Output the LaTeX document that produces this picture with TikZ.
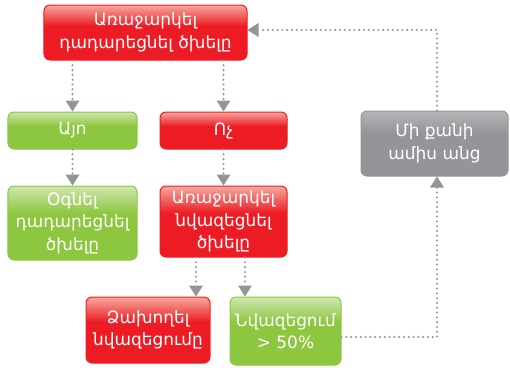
\documentclass[tikz,border=0pt]{standalone}
\usepackage{fontspec}
\setmainfont{DejaVu Sans}
\usetikzlibrary{arrows.meta,calc}

\definecolor{rbase}{HTML}{ED1C24}
\definecolor{rlight}{HTML}{F5A99E}
\definecolor{gbase}{HTML}{8DC63F}
\definecolor{glight}{HTML}{CFE6AE}
\definecolor{kbase}{HTML}{939598}
\definecolor{klight}{HTML}{B4B5B7}
\definecolor{lnk}{HTML}{939598}

% glossy fills: a light band on top, fading into the base colour
\pgfdeclareverticalshading{redgloss}{100bp}{color(0bp)=(rbase); color(56bp)=(rbase); color(75bp)=(rlight); color(100bp)=(rlight)}
\pgfdeclareverticalshading{greengloss}{100bp}{color(0bp)=(gbase); color(56bp)=(gbase); color(75bp)=(glight); color(100bp)=(glight)}
\pgfdeclareverticalshading{greygloss}{100bp}{color(0bp)=(kbase); color(58bp)=(kbase); color(75bp)=(klight); color(100bp)=(klight)}

\tikzset{
  box/.style={rounded corners=6bp, align=center, text=white, line width=1bp,
    font=\fontsize{17}{22.5}\selectfont, inner sep=0pt},
  redbox/.style={box, draw=rbase, shade, shading=redgloss},
  greenbox/.style={box, draw=gbase, shade, shading=greengloss},
  greybox/.style={box, draw=kbase, shade, shading=greygloss},
  flow/.style={draw=lnk, line width=2.3bp, line cap=round, dash pattern=on 0bp off 4.8bp,
    -{Triangle[width=14bp,length=11bp,fill=lnk,line width=0pt]}},
}

\begin{document}
\begin{tikzpicture}[x=1bp,y=-1bp]
\useasboundingbox (0,0) rectangle (510,367);

\node[redbox, minimum width=203bp, minimum height=55bp] (offer) at (145.5,32.5)
  {Առաջարկել\\դադարեցնել ծխելը};
\node[greenbox, minimum width=129bp, minimum height=37bp] (yes) at (72.5,130.5) {Այո};
\node[redbox, minimum width=127bp, minimum height=37bp] (no) at (223.5,130.5) {Ոչ};
\node[greenbox, minimum width=129bp, minimum height=74bp] (help) at (72.5,223)
  {Օգնել\\դադարեցնել\\ծխելը};
\node[redbox, minimum width=127bp, minimum height=71bp] (reduce) at (223.5,221.5)
  {Առաջարկել\\նվազեցնել\\ծխելը};
\node[redbox, minimum width=124bp, minimum height=66bp] (fail) at (148,330)
  {Ձախողել\\նվազեցումը};
\node[greenbox, minimum width=111bp, minimum height=68bp] (half) at (285.5,331)
  {Նվազեցում\\> 50\%};
\node[greybox, minimum width=147bp, minimum height=65bp] (wait) at (434.5,143.5)
  {Մի քանի\\ամիս անց};

\draw[flow] (yes |- offer.south) -- (yes.north);
\draw[flow] (no |- offer.south) -- (no.north);
\draw[flow] (yes.south) -- (help.north);
\draw[flow] (no.south) -- (reduce.north);
\draw[flow] ([xshift=-27.5bp]reduce.south) -- ([xshift=-27.5bp]reduce.south |- fail.north);
\draw[flow] ([xshift=21.5bp]reduce.south) -- ([xshift=21.5bp]reduce.south |- half.north);
\draw[flow] ([yshift=-6bp]half.east) -| ([xshift=2.5bp]wait.south);
\draw[flow] ([xshift=2.5bp]wait.north) |- ([yshift=2.5bp]offer.east);
\end{tikzpicture}
\end{document}
